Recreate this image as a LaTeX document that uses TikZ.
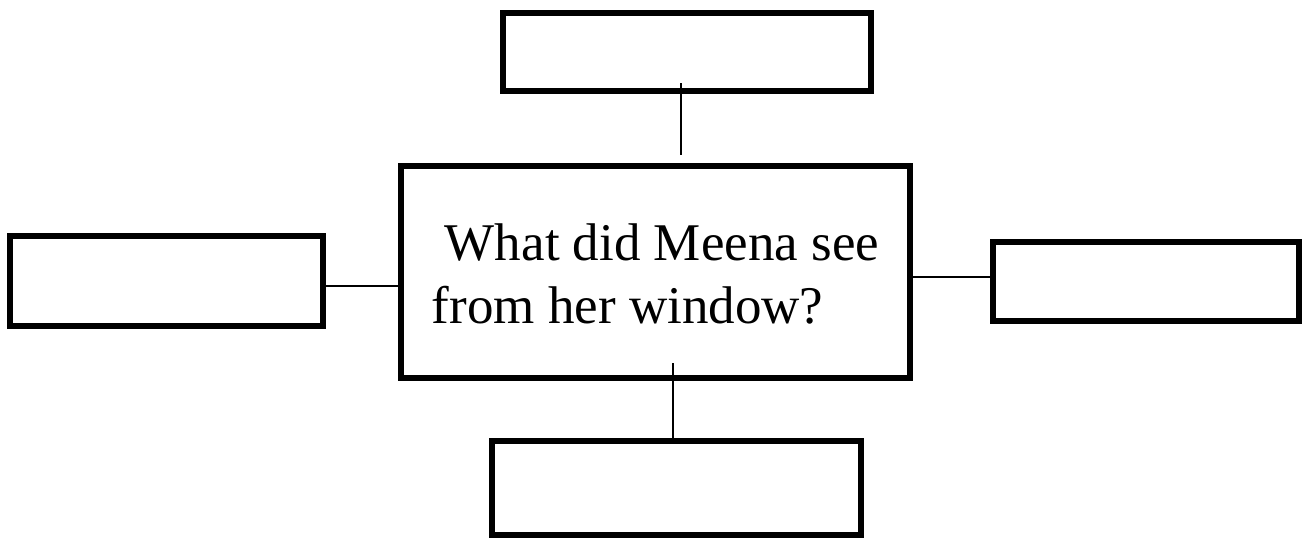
\documentclass[tikz,border=0pt]{standalone}
\usepackage{fontspec}
\setmainfont{Liberation Serif}
\begin{document}
\begin{tikzpicture}[x=1pt,y=-1pt,
  blank/.style={draw=black,line width=6pt,inner sep=0pt,fill=white},
  link/.style={draw=black,line width=1.5pt},
  question/.style={align=left,inner sep=0pt,font=\fontsize{53}{63}\selectfont}]
\useasboundingbox (0,0) rectangle (1303,539);
% boxes (corners are line centres)
\node[blank,minimum width=368pt,minimum height=78pt] (top) at (687,52) {};
\node[blank,minimum width=313pt,minimum height=90pt] (left) at (166.5,281) {};
\node[blank,minimum width=306pt,minimum height=79pt] (right) at (1146,281.5) {};
\node[blank,minimum width=369pt,minimum height=94pt] (bottom) at (676.5,488) {};
\node[blank,minimum width=509pt,minimum height=212pt] (centre) at (655.5,272) {};
\node[question] (qtext) at (655.5,274)
  {\hspace*{13pt}What did Meena see\\from her window?};
% connectors with free ends
\coordinate (topend) at (681,83);
\coordinate (topfree) at (681,155);
\coordinate (botfree) at (673,363);
\draw[link] (topend) -- (topfree);
\draw[link] (botfree) -- (botfree |- bottom.north);
\draw[link] (left.east |- 0,286) -- (centre.west |- 0,286);
\draw[link] (centre.east |- 0,277) -- (right.west |- 0,277);
\end{tikzpicture}
\end{document}
